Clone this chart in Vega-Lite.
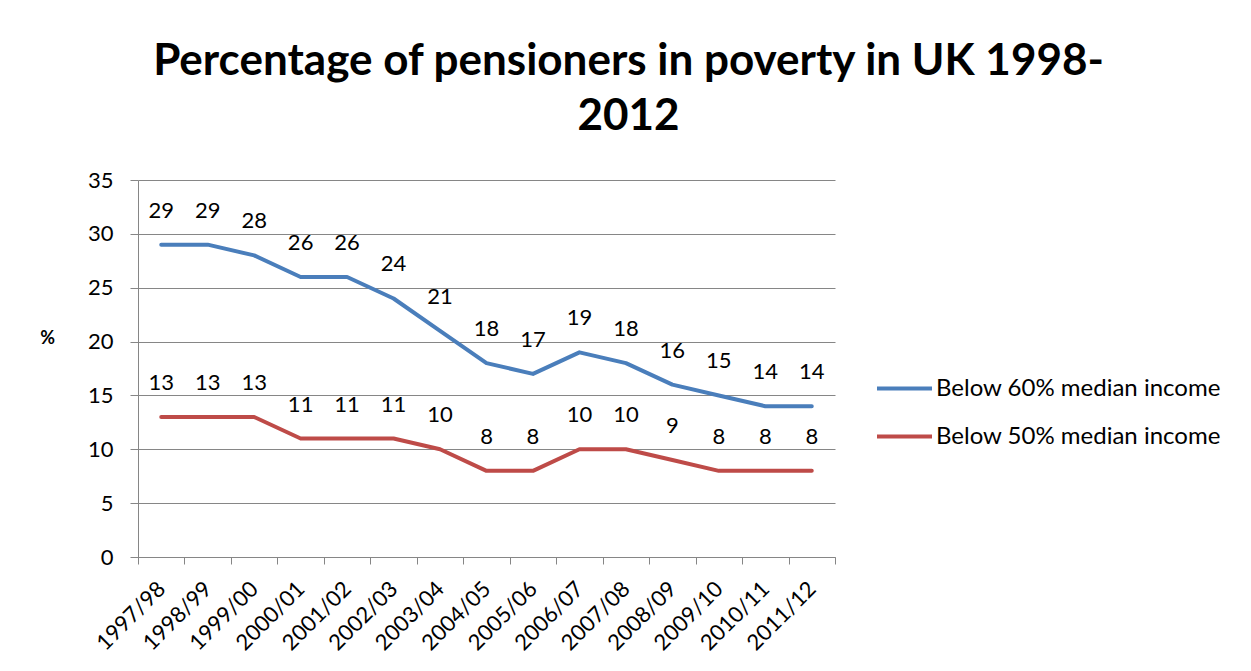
{
  "$schema": "https://vega.github.io/schema/vega-lite/v6.json",
  "autosize": {"type": "none"},
  "padding": {"left": 138, "top": 180, "right": 416, "bottom": 114},
  "width": 697,
  "height": 377,
  "background": "white",
  "config": {
    "view": {"stroke": null},
    "font": "Lato",
    "axis": {
      "labelFont": "Lato",
      "labelFontSize": 22,
      "labelColor": "black",
      "domainColor": "#868686",
      "tickColor": "#868686",
      "gridColor": "#868686",
      "domainWidth": 1,
      "tickWidth": 1
    }
  },
  "title": {
    "text": ["Percentage of pensioners in poverty in UK 1998-", "2012"],
    "font": "Lato",
    "fontWeight": "bold",
    "fontSize": 44,
    "lineHeight": 55,
    "color": "black",
    "anchor": "middle",
    "dx": 142,
    "offset": 30
  },
  "data": {
    "values": [
      {"period": "1997/98", "series": "Below 60% median income", "value": 29},
      {"period": "1998/99", "series": "Below 60% median income", "value": 29},
      {"period": "1999/00", "series": "Below 60% median income", "value": 28},
      {"period": "2000/01", "series": "Below 60% median income", "value": 26},
      {"period": "2001/02", "series": "Below 60% median income", "value": 26},
      {"period": "2002/03", "series": "Below 60% median income", "value": 24},
      {"period": "2003/04", "series": "Below 60% median income", "value": 21},
      {"period": "2004/05", "series": "Below 60% median income", "value": 18},
      {"period": "2005/06", "series": "Below 60% median income", "value": 17},
      {"period": "2006/07", "series": "Below 60% median income", "value": 19},
      {"period": "2007/08", "series": "Below 60% median income", "value": 18},
      {"period": "2008/09", "series": "Below 60% median income", "value": 16},
      {"period": "2009/10", "series": "Below 60% median income", "value": 15},
      {"period": "2010/11", "series": "Below 60% median income", "value": 14},
      {"period": "2011/12", "series": "Below 60% median income", "value": 14},
      {"period": "1997/98", "series": "Below 50% median income", "value": 13},
      {"period": "1998/99", "series": "Below 50% median income", "value": 13},
      {"period": "1999/00", "series": "Below 50% median income", "value": 13},
      {"period": "2000/01", "series": "Below 50% median income", "value": 11},
      {"period": "2001/02", "series": "Below 50% median income", "value": 11},
      {"period": "2002/03", "series": "Below 50% median income", "value": 11},
      {"period": "2003/04", "series": "Below 50% median income", "value": 10},
      {"period": "2004/05", "series": "Below 50% median income", "value": 8},
      {"period": "2005/06", "series": "Below 50% median income", "value": 8},
      {"period": "2006/07", "series": "Below 50% median income", "value": 10},
      {"period": "2007/08", "series": "Below 50% median income", "value": 10},
      {"period": "2008/09", "series": "Below 50% median income", "value": 9},
      {"period": "2009/10", "series": "Below 50% median income", "value": 8},
      {"period": "2010/11", "series": "Below 50% median income", "value": 8},
      {"period": "2011/12", "series": "Below 50% median income", "value": 8}
    ]
  },
  "encoding": {
    "x": {
      "field": "period",
      "type": "ordinal",
      "scale": {"paddingInner": 0, "paddingOuter": 0},
      "axis": {
        "title": null,
        "labelAngle": -45,
        "labelAlign": "right",
        "labelBaseline": "middle",
        "labelPadding": 21,
        "tickBand": "extent",
        "tickSize": 7,
        "grid": false
      }
    },
    "y": {
      "field": "value",
      "type": "quantitative",
      "scale": {"domain": [0, 35], "nice": false},
      "axis": {
        "values": [0, 5, 10, 15, 20, 25, 30, 35],
        "tickSize": 8,
        "labelPadding": 17,
        "grid": true,
        "title": "%",
        "titleAngle": 0,
        "titleFont": "Lato",
        "titleFontWeight": "bold",
        "titleFontSize": 18,
        "titleColor": "black",
        "titleX": -91,
        "titleY": 158,
        "titleAlign": "center",
        "titleBaseline": "middle"
      }
    },
    "color": {
      "field": "series",
      "type": "nominal",
      "sort": ["Below 60% median income", "Below 50% median income"],
      "scale": {
        "domain": ["Below 60% median income", "Below 50% median income"],
        "range": ["#4A7EBB", "#BE4B48"]
      },
      "legend": {
        "title": null,
        "orient": "none",
        "legendX": 737,
        "legendY": 179,
        "symbolType": "stroke",
        "symbolSize": 3025,
        "symbolStrokeWidth": 4,
        "labelFont": "Lato",
        "labelFontSize": 24,
        "labelColor": "black",
        "labelLimit": 0,
        "labelOffset": 2,
        "rowPadding": 6
      }
    }
  },
  "layer": [
    {
      "mark": {"type": "line", "strokeWidth": 4, "strokeCap": "round", "strokeJoin": "round"}
    },
    {
      "mark": {"type": "text", "dy": -34, "fontSize": 22, "font": "Lato", "color": "black"},
      "encoding": {
        "text": {"field": "value", "type": "quantitative"},
        "color": {"value": "black"}
      }
    }
  ]
}
